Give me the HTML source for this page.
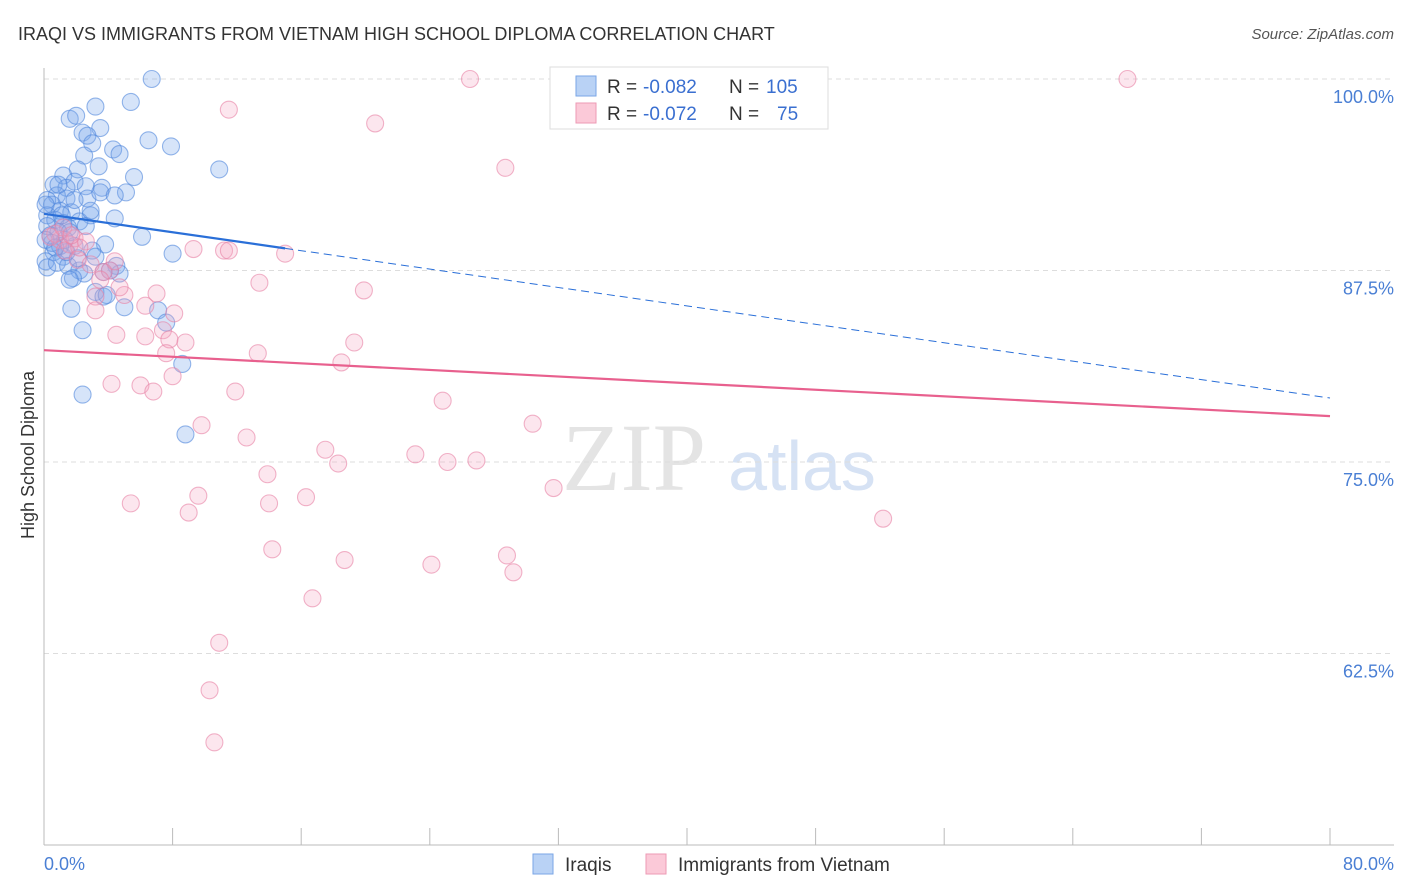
<!DOCTYPE html>
<html><head><meta charset="utf-8"><style>
body{margin:0;background:#fff;font-family:"Liberation Sans",sans-serif;}
#wrap{position:relative;width:1406px;height:892px;overflow:hidden;}
</style></head><body>
<div id="wrap">
<svg id="chart" width="1406" height="892" xmlns="http://www.w3.org/2000/svg">
<text x="18" y="40" font-size="18" fill="#333">IRAQI VS IMMIGRANTS FROM VIETNAM HIGH SCHOOL DIPLOMA CORRELATION CHART</text>
<text x="1394" y="39" font-size="15" fill="#555" font-style="italic" text-anchor="end">Source: ZipAtlas.com</text>
<text x="634" y="490" font-size="96" fill="#e4e4e4" font-family="Liberation Serif,serif" text-anchor="middle">ZIP</text>
<text x="802" y="490" font-size="70" fill="#d6e2f4" text-anchor="middle">atlas</text>
<g id="grid"></g><g id="axes"></g><g id="marks"></g><g id="lines"></g>
<text transform="translate(34,455) rotate(-90)" font-size="18" fill="#333" text-anchor="middle">High School Diploma</text>
<text x="44" y="870" font-size="18" fill="#4a7fd4">0.0%</text>
<text x="1394" y="870" font-size="18" fill="#4a7fd4" text-anchor="end">80.0%</text>
<g>
<rect x="550" y="67" width="278" height="62" fill="#fff" stroke="#ddd"/>
<rect x="576" y="76" width="20" height="20" fill="#b9d2f5" stroke="#7aa6e6"/>
<rect x="576" y="103" width="20" height="20" fill="#fbc9d8" stroke="#ee9ab4"/>
<text x="607" y="93" font-size="19" fill="#333">R =</text>
<text x="643" y="93" font-size="19" fill="#3a6fd0">-0.082</text>
<text x="729" y="93" font-size="19" fill="#333">N =</text>
<text x="766" y="93" font-size="19" fill="#3a6fd0">105</text>
<text x="607" y="120" font-size="19" fill="#333">R =</text>
<text x="643" y="120" font-size="19" fill="#3a6fd0">-0.072</text>
<text x="729" y="120" font-size="19" fill="#333">N =</text>
<text x="777" y="120" font-size="19" fill="#3a6fd0">75</text>
</g>
<g>
<rect x="533" y="854" width="20" height="20" fill="#b9d2f5" stroke="#7aa6e6"/>
<text x="565" y="871" font-size="19" fill="#333">Iraqis</text>
<rect x="646" y="854" width="20" height="20" fill="#fbc9d8" stroke="#ee9ab4"/>
<text x="678" y="871" font-size="19" fill="#333">Immigrants from Vietnam</text>
</g>
</svg></div>
<script>
const yTicks=[100,87.5,75,62.5];
const yTickLabels=["100.0%","87.5%","75.0%","62.5%"];
const xTicks=[0,8,16,24,32,40,48,56,64,72,80];
const blueX=[6.7,5.4,3.2,1.6,2.0,3.5,2.4,2.7,6.5,7.9,3.0,4.3,4.7,2.5,3.4,2.1,10.9,5.6,1.2,1.9,0.6,1.4,2.6,3.6,5.1,0.8,0.2,1.4,2.7,0.5,1.0,0.2,1.7,2.9,4.4,0.7,1.2,2.2,0.2,1.5,0.9,2.6,0.4,6.1,1.3,3.8,1.9,3.0,0.6,8.0,1.2,0.1,0.2,0.8,1.5,2.2,4.5,3.7,4.7,2.5,1.8,1.6,3.2,3.7,5.0,1.7,7.1,7.6,2.4,8.6,2.4,8.8,4.1,1.0,0.5,2.1,1.4,0.1,0.7,1.1,1.6,3.2,3.9,2.9,3.5,4.4,0.1,1.9,0.9];
const blueY=[100.0,98.5,98.2,97.4,97.6,96.8,96.5,96.3,96.0,95.6,95.8,95.4,95.1,95.0,94.3,94.1,94.1,93.6,93.7,93.3,93.1,92.9,93.0,92.9,92.6,92.4,92.1,92.2,92.2,91.8,91.4,91.1,91.3,91.1,90.9,90.8,90.6,90.7,90.4,90.3,90.0,90.4,89.8,89.7,89.5,89.2,89.1,88.8,88.7,88.6,88.4,88.1,87.7,88.0,87.8,87.5,87.8,87.4,87.3,87.3,87.0,86.9,86.1,85.8,85.1,85.0,84.9,84.1,83.6,81.4,79.4,76.8,87.5,89.1,89.3,88.3,88.7,89.5,89.0,91.1,90.0,88.4,85.9,91.4,92.6,92.4,91.8,92.1,93.1];
const pinkX=[26.5,43.3,67.4,11.5,20.6,28.7,9.3,11.2,11.5,15.0,13.4,19.9,7.0,5.0,3.2,4.1,3.7,6.3,8.1,7.4,4.5,6.3,8.8,19.3,7.8,7.6,13.3,18.5,8.0,4.2,6.0,6.8,11.9,24.8,30.4,9.8,12.6,17.5,23.1,18.3,25.1,26.9,13.9,31.7,9.6,5.4,16.3,14.0,9.0,52.2,14.2,28.8,18.7,24.1,29.2,16.7,10.9,10.3,10.6,1.0,1.6,1.9,0.7,2.6,1.3,0.4,2.1,2.9,3.5,4.7,3.2,2.2,4.4,1.2,1.7];
const pinkY=[100.0,100.0,100.0,98.0,97.1,94.2,88.9,88.8,88.8,88.6,86.7,86.2,86.0,85.9,85.8,87.5,87.4,85.2,84.7,83.6,83.3,83.2,82.8,82.8,83.0,82.1,82.1,81.5,80.6,80.1,80.0,79.6,79.6,79.0,77.5,77.4,76.6,75.8,75.5,74.9,75.0,75.1,74.2,73.3,72.8,72.3,72.7,72.3,71.7,71.3,69.3,68.9,68.6,68.3,67.8,66.1,63.2,60.1,56.7,89.5,89.2,89.6,89.9,89.4,88.8,89.7,88.2,87.9,86.9,86.4,84.9,89.0,88.1,90.3,89.8];
const blueTrend=[91.2,-0.1503];
const blueSolidEnd=15;
const pinkTrend=[82.3,-0.0538];

const NS="http://www.w3.org/2000/svg";
const X0=44,X1=1330,Y100=79,Y50=845;
const sx=v=>X0+(v/80)*(X1-X0);
const sy=v=>Y100+(100-v)/50*(Y50-Y100);
function mk(tag,at,parent){const e=document.createElementNS(NS,tag);for(const k in at)e.setAttribute(k,at[k]);parent.appendChild(e);return e;}
const grid=document.getElementById('grid'),axes=document.getElementById('axes'),marks=document.getElementById('marks'),lines=document.getElementById('lines');
yTicks.forEach((t,i)=>{
  const g=mk('line',{x1:X0,x2:1394,y1:sy(t),y2:sy(t),stroke:'#ddd','stroke-dasharray':'5,4'},grid);
  
  
  const tx=mk('text',{x:1394,y:sy(t)+24,'font-size':18,fill:'#4a7fd4','text-anchor':'end'},axes);
  tx.textContent=yTickLabels[i];
  
  
});
const ya=mk('line',{x1:X0,x2:X0,y1:68,y2:Y50,stroke:'#bbb'},axes);


const xa=mk('line',{x1:X0,x2:1394,y1:Y50,y2:Y50,stroke:'#bbb'},axes);


xTicks.forEach(t=>{
  const l=mk('line',{x1:sx(t),x2:sx(t),y1:828,y2:Y50,stroke:'#bbb'},axes);
  
  
});
function pts(xs,ys,fill,stroke,name){
  xs.forEach((v,i)=>{
    const c=mk('circle',{cx:sx(v),cy:sy(ys[i]),r:8.5,fill:fill,stroke:stroke,'stroke-width':1.1},marks);
    
    
  });
}
pts(blueX,blueY,'rgba(120,165,235,0.3)','rgba(80,135,220,0.6)','iraqi-point');
pts(pinkX,pinkY,'rgba(245,165,195,0.28)','rgba(232,130,165,0.6)','vietnam-point');
const f=(tr,x)=>tr[0]+tr[1]*x;
const b1=mk('line',{x1:sx(0),y1:sy(f(blueTrend,0)),x2:sx(blueSolidEnd),y2:sy(f(blueTrend,blueSolidEnd)),stroke:'#2a6fd8','stroke-width':2.2},lines);


const b2=mk('line',{x1:sx(blueSolidEnd),y1:sy(f(blueTrend,blueSolidEnd)),x2:sx(80),y2:sy(f(blueTrend,80)),stroke:'#2a6fd8','stroke-width':1,'stroke-dasharray':'8,5'},lines);


const p1=mk('line',{x1:sx(0),y1:sy(f(pinkTrend,0)),x2:sx(80),y2:sy(f(pinkTrend,80)),stroke:'#e8608e','stroke-width':2.2},lines);


</script>
</body></html>
